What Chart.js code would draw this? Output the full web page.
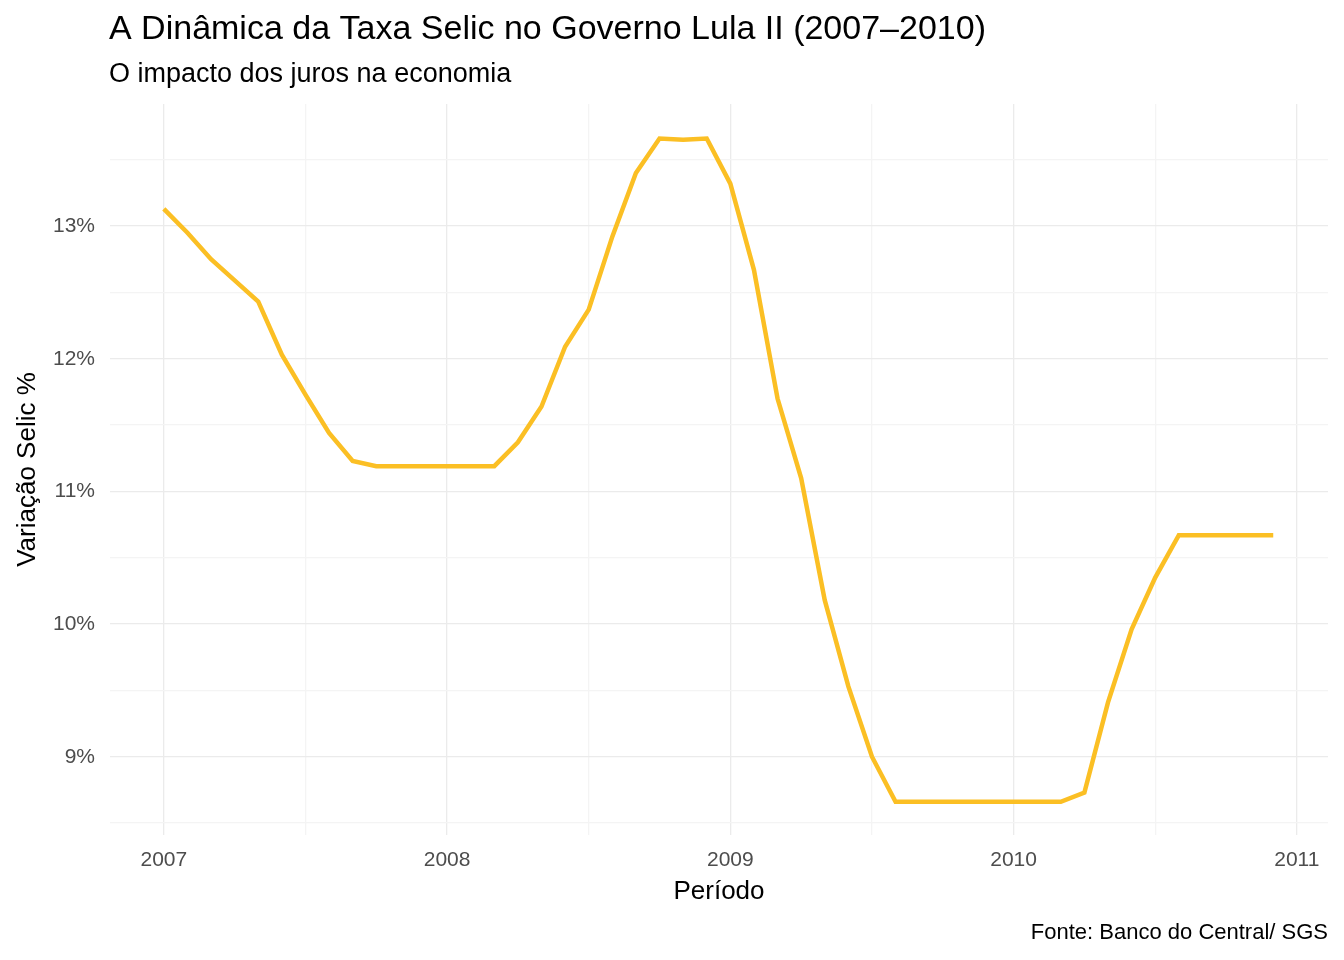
<!DOCTYPE html>
<html><head><meta charset="utf-8">
<script src="https://cdn.jsdelivr.net/npm/chart.js@4"></script>
<style>body{margin:0;background:#fff}#wrap{width:1344px;height:960px}</style>
</head><body><div id="wrap"><canvas id="c" width="1344" height="960"></canvas></div>
<script>
// monthly Selic, Jan 2007 - Dec 2010
var months = [];
for (var i = 0; i < 48; i++) months.push(2007 + i / 12);
var selic = [
  13.13, 12.95, 12.75, 12.59, 12.43, 12.03, 11.73, 11.44, 11.23, 11.19, 11.19, 11.19,
  11.19, 11.19, 11.19, 11.37, 11.64, 12.09, 12.37, 12.92, 13.40, 13.66, 13.65, 13.66,
  13.32, 12.67, 11.70, 11.10, 10.18, 9.53, 9.00, 8.66, 8.66, 8.66, 8.66, 8.66,
  8.66, 8.66, 8.66, 8.73, 9.41, 9.96, 10.35, 10.67, 10.67, 10.67, 10.67, 10.67
];
var yearTicks = [2007, 2008, 2009, 2010, 2011];
var pctTicks = [9, 10, 11, 12, 13];

var FONT = "'Liberation Sans', Arial, sans-serif";
var texts = {
  id: 'texts',
  afterDraw: function(ch) {
    var c = ch.ctx, a = ch.chartArea;
    c.save();
    c.fillStyle = '#000';
    c.textBaseline = 'middle';
    c.textAlign = 'left';
    c.font = '34px ' + FONT; c.fillText('A Dinâmica da Taxa Selic no Governo Lula II (2007–2010)', 109, 30);
    c.font = '27px ' + FONT; c.fillText('O impacto dos juros na economia', 109, 75);
    c.textAlign = 'center';
    c.font = '26px ' + FONT; c.fillText('Período', (a.left + a.right) / 2, 892);
    c.save(); c.translate(28, (a.top + a.bottom) / 2); c.rotate(-Math.PI / 2);
    c.fillText('Variação Selic %', 0, 0); c.restore();
    c.textAlign = 'right';
    c.font = '22px ' + FONT; c.fillText('Fonte: Banco do Central/ SGS', 1328, 933);
    c.restore();
  }
};

new Chart(document.getElementById('c'), {
  type: 'line',
  data: { datasets: [{
    data: months.map(function(m, i) { return { x: m, y: selic[i] }; }),
    borderColor: '#fbbf24', borderWidth: 4.5, pointRadius: 0, tension: 0
  }]},
  options: {
    responsive: false, animation: false,
    layout: { padding: { top: 104, left: 10, right: 16, bottom: 0 } },
    plugins: { legend: { display: false }, tooltip: { enabled: false } },
    scales: {
      x: {
        type: 'linear', min: 2006.81, max: 2011.11,
        afterFit: function(s) { s.height = 125; },
        afterBuildTicks: function(s) {
          var t = [];
          for (var v = 2007; v <= 2011; v += 0.5) t.push({ value: v });
          s.ticks = t;
        },
        border: { display: false },
        grid: { color: function(ctx) { return yearTicks.indexOf(ctx.tick.value) >= 0 ? '#ebebeb' : '#f4f4f4'; }, lineWidth: 1.3, drawTicks: false },
        ticks: { padding: 13, color: '#4d4d4d', font: { size: 21, family: FONT }, maxRotation: 0, autoSkip: false,
          callback: function(v) { return yearTicks.indexOf(v) >= 0 ? String(v) : ''; } }
      },
      y: {
        min: 8.41, max: 13.92,
        afterFit: function(s) { s.width = 100; },
        afterBuildTicks: function(s) {
          var t = [];
          for (var v = 8.5; v <= 13.5; v += 0.5) t.push({ value: v });
          s.ticks = t;
        },
        border: { display: false },
        grid: { color: function(ctx) { return pctTicks.indexOf(ctx.tick.value) >= 0 ? '#ebebeb' : '#f4f4f4'; }, lineWidth: 1.3, drawTicks: false },
        ticks: { padding: 15, color: '#4d4d4d', font: { size: 21, family: FONT }, autoSkip: false,
          callback: function(v) { return pctTicks.indexOf(v) >= 0 ? v + '%' : ''; } }
      }
    }
  },
  plugins: [texts]
});
</script></body></html>
